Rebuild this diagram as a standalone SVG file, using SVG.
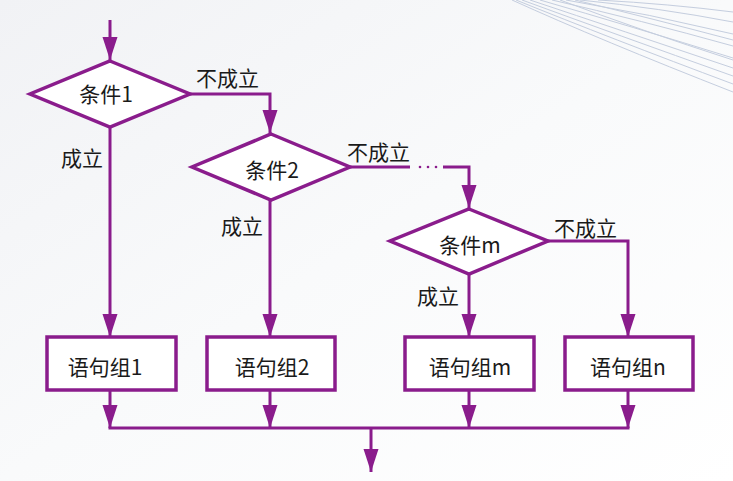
<svg xmlns="http://www.w3.org/2000/svg" width="733" height="481" viewBox="0 0 733 481">
<defs>
<linearGradient id="bg" x1="0" y1="0" x2="1" y2="1">
<stop offset="0" stop-color="#f1f2f5"/>
<stop offset="0.5" stop-color="#f9fafb"/>
<stop offset="1" stop-color="#ffffff"/>
</linearGradient>
<marker id="ah" markerUnits="userSpaceOnUse" markerWidth="24" markerHeight="16" refX="23" refY="8" orient="auto">
<path d="M0,0.5 L23,8 L0,15.5 z" fill="#8a1c8c"/>
</marker>
<style>
.shape{fill:#ffffff;stroke:#8a1c8c;stroke-width:3.5}
.conn{fill:none;stroke:#8a1c8c;stroke-width:3}
.deco{fill:none;stroke:#b8c3d8;stroke-width:1}
text{font-family:"Noto Sans CJK SC","Noto Sans",sans-serif;font-size:21px;fill:#1a1a1a}
.c{text-anchor:middle;dominant-baseline:central}
</style>
</defs>
<rect width="733" height="481" fill="url(#bg)"/>
<g id="decoration" opacity="0.8">
<path class="deco" d="M512,0 Q600,40 733,92"/>
<path class="deco" d="M516,0 Q610,38 733,84"/>
<path class="deco" d="M522,0 Q615,34 733,76"/>
<path class="deco" d="M530,0 Q620,30 733,68"/>
<path class="deco" d="M540,0 Q630,26 733,58"/>
<path class="deco" d="M552,0 Q640,20 733,46"/>
<path class="deco" d="M566,0 Q650,14 733,34"/>
<path class="deco" d="M580,0 Q660,8 733,22"/>
<path class="deco" d="M598,0 Q670,4 733,12"/>
<path class="deco" d="M560,0 Q640,30 733,60"/>
<path class="deco" d="M575,0 Q650,18 733,40"/>
</g>
<g id="connectors">
<path class="conn" d="M110,20 V60" marker-end="url(#ah)"/>
<path class="conn" d="M190,94 H270 V133" marker-end="url(#ah)"/>
<path class="conn" d="M110,127 V337" marker-end="url(#ah)"/>
<path class="conn" d="M350,167 H410"/>
<circle cx="420" cy="167" r="1.3" fill="#8a1c8c"/>
<circle cx="428" cy="167" r="1.3" fill="#8a1c8c"/>
<circle cx="436" cy="167" r="1.3" fill="#8a1c8c"/>
<path class="conn" d="M443,167 H469 V208" marker-end="url(#ah)"/>
<path class="conn" d="M270,200 V337" marker-end="url(#ah)"/>
<path class="conn" d="M469,274 V337" marker-end="url(#ah)"/>
<path class="conn" d="M548,241 H628 V337" marker-end="url(#ah)"/>
<path class="conn" d="M110,390 V428" marker-end="url(#ah)"/>
<path class="conn" d="M270,390 V428" marker-end="url(#ah)"/>
<path class="conn" d="M469,390 V428" marker-end="url(#ah)"/>
<path class="conn" d="M628,390 V428" marker-end="url(#ah)"/>
<path class="conn" d="M108.5,428 H629.5"/>
<path class="conn" d="M371,428 V472" marker-end="url(#ah)"/>
<text x="196" y="86">不成立</text>
<text x="347" y="160">不成立</text>
<text x="554" y="236">不成立</text>
<text x="61" y="166">成立</text>
<text x="221" y="234">成立</text>
<text x="417" y="304">成立</text>
</g>
<g id="cond1">
<polygon class="shape" points="110,61 190,94 110,127 30,94"/>
<text class="c" x="106" y="93">条件1</text>
</g>
<g id="cond2">
<polygon class="shape" points="271,134 350,167 271,200 192,167"/>
<text class="c" x="272" y="169">条件2</text>
</g>
<g id="condm">
<polygon class="shape" points="469,209 548,241 469,274 390,241"/>
<text class="c" x="470" y="244">条件m</text>
</g>
<g id="block1">
<rect class="shape" x="47" y="337" width="129" height="53"/>
<text class="c" x="105" y="366">语句组1</text>
</g>
<g id="block2">
<rect class="shape" x="207" y="337" width="128" height="53"/>
<text class="c" x="272" y="366">语句组2</text>
</g>
<g id="blockm">
<rect class="shape" x="405" y="337" width="129" height="53"/>
<text class="c" x="470" y="366">语句组m</text>
</g>
<g id="blockn">
<rect class="shape" x="565" y="337" width="128" height="53"/>
<text class="c" x="628" y="366">语句组n</text>
</g>
</svg>
